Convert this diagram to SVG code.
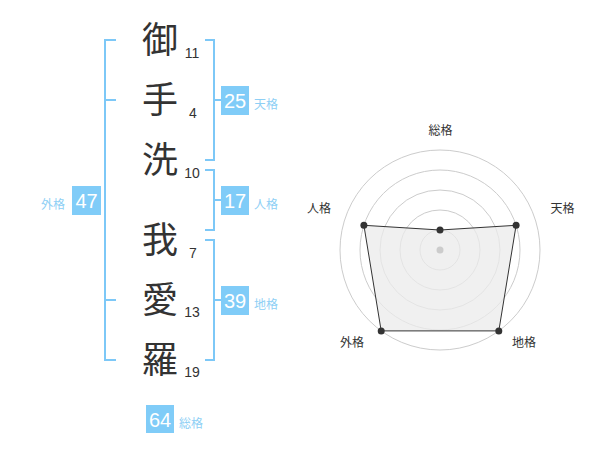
<svg xmlns="http://www.w3.org/2000/svg" width="600" height="470" viewBox="0 0 600 470">
<style>
.br{fill:none;stroke:#7dc8f7;stroke-width:2}
.box{fill:#80ccf8}
.bv{font-family:"Liberation Sans",Arial,sans-serif;font-size:20px;fill:#fff;text-anchor:middle}
.bl{font-family:"Noto Sans CJK JP","Noto Sans CJK SC",sans-serif;font-size:12px;fill:#8ecff5}
.ch{font-family:"Noto Sans CJK JP","Noto Sans CJK SC",sans-serif;font-size:36px;fill:#333;text-anchor:middle}
.num{font-family:"Liberation Sans",Arial,sans-serif;font-size:14px;fill:#333;text-anchor:middle}
.grid{fill:none;stroke:#ccc;stroke-width:1}
.rl{font-family:"Noto Sans CJK JP","Noto Sans CJK SC",sans-serif;font-size:12px;fill:#333;text-anchor:middle}
.pt{fill:#333}
</style>
<rect width="600" height="470" fill="#fff"/>
<g id="connectors">
<path class="br" d="M116,40 H105 V360 H116 M105,100 H116 M105,300 H116"/>
<path class="br" d="M205,40 H214 V160 H205 M214,100 H221"/>
<path class="br" d="M205,170 H214 V230 H205 M214,200 H221"/>
<path class="br" d="M205,240 H214 V360 H205 M214,300 H221"/>
</g>
<g id="chars">
<g id="c1"><text class="ch" x="160" y="53">御</text><text class="num" x="192" y="58">11</text></g>
<g id="c2"><text class="ch" x="160" y="113">手</text><text class="num" x="193" y="118">4</text></g>
<g id="c3"><text class="ch" x="160" y="173">洗</text><text class="num" x="192" y="178">10</text></g>
<g id="c4"><text class="ch" x="160" y="253">我</text><text class="num" x="193" y="258">7</text></g>
<g id="c5"><text class="ch" x="160" y="313">愛</text><text class="num" x="192" y="317">13</text></g>
<g id="c6"><text class="ch" x="160" y="373">羅</text><text class="num" x="192" y="377">19</text></g>
</g>
<g id="tenkaku"><rect class="box" x="221" y="86" width="28" height="29"/><text class="bv" x="235" y="108">25</text><text class="bl" x="254" y="109">天格</text></g>
<g id="jinkaku"><rect class="box" x="221" y="186" width="28" height="29"/><text class="bv" x="235" y="208">17</text><text class="bl" x="254" y="209">人格</text></g>
<g id="chikaku"><rect class="box" x="221" y="286" width="28" height="29"/><text class="bv" x="235" y="308">39</text><text class="bl" x="254" y="309">地格</text></g>
<g id="gaikaku"><rect class="box" x="72" y="186" width="29" height="29"/><text class="bv" x="86.5" y="208">47</text><text class="bl" x="65" y="209" text-anchor="end">外格</text></g>
<g id="soukaku"><rect class="box" x="146" y="405" width="28" height="28"/><text class="bv" x="160" y="427">64</text><text class="bl" x="179" y="428">総格</text></g>
<g id="radar">
<circle class="grid" cx="440" cy="250" r="20"/>
<circle class="grid" cx="440" cy="250" r="40"/>
<circle class="grid" cx="440" cy="250" r="60"/>
<circle class="grid" cx="440" cy="250" r="80"/>
<circle class="grid" cx="440" cy="250" r="100"/>
<polygon points="440,230 516.1,225.3 498.8,330.9 381.2,330.9 363.9,225.3" fill="#ebebeb" fill-opacity="0.75" stroke="#333" stroke-width="1"/>
<circle cx="440" cy="250" r="3.5" fill="#ccc"/>
<circle class="pt" cx="440" cy="230" r="3.5"/>
<circle class="pt" cx="516.1" cy="225.3" r="3.5"/>
<circle class="pt" cx="498.8" cy="330.9" r="3.5"/>
<circle class="pt" cx="381.2" cy="330.9" r="3.5"/>
<circle class="pt" cx="363.9" cy="225.3" r="3.5"/>
<text class="rl" x="440.5" y="135">総格</text>
<text class="rl" x="562.5" y="213">天格</text>
<text class="rl" x="524" y="347">地格</text>
<text class="rl" x="352" y="347">外格</text>
<text class="rl" x="319" y="213">人格</text>
</g>
</svg>
